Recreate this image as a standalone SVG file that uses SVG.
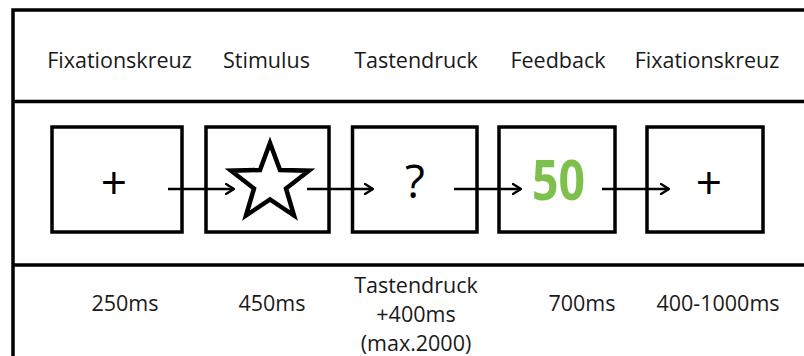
<svg xmlns="http://www.w3.org/2000/svg" width="804" height="356" viewBox="0 0 804 356">
  <style>
    .frame { fill: none; stroke: #000; stroke-width: 3.5; }
    .box { fill: #fff; stroke: #000; stroke-width: 3.5; }
    .lbl { font-family: "Open Sans", "Noto Sans", sans-serif; font-size: 21.5px; fill: #1a1a1a; text-anchor: middle; }
    .sym { font-family: "Open Sans", "Noto Sans", sans-serif; font-size: 46px; fill: #000; text-anchor: middle; }
    .fb { font-family: "Open Sans", "Noto Sans", sans-serif; font-size: 56px; font-weight: bold; fill: #7dc14c; text-anchor: middle; }
    .conn { fill: none; stroke: #000; stroke-width: 2.5; }
  </style>
  <defs>
    <marker id="arrow" viewBox="0 0 10 12" refX="9" refY="6" markerWidth="10" markerHeight="12" markerUnits="userSpaceOnUse" orient="auto">
      <path d="M1,1 L9,6 L1,11" fill="none" stroke="#000" stroke-width="2.3" stroke-linecap="round" stroke-linejoin="round"/>
    </marker>
  </defs>

  <rect width="804" height="356" fill="#fff"/>

  <!-- table frame -->
  <g id="frame" class="frame">
    <path d="M13,356 V10 H804"/>
    <path d="M13,101.5 H804"/>
    <path d="M13,265 H804"/>
  </g>

  <!-- phase names -->
  <g id="headers" class="lbl">
    <text x="119.5" y="68">Fixationskreuz</text>
    <text x="266.5" y="68">Stimulus</text>
    <text x="416" y="68">Tastendruck</text>
    <text x="558" y="68">Feedback</text>
    <text x="707" y="68">Fixationskreuz</text>
  </g>

  <!-- screens -->
  <g id="fixation1">
    <rect class="box" x="52" y="127" width="130" height="105"/>
    <text class="sym" x="114" y="199">+</text>
  </g>
  <g id="stimulus">
    <rect class="box" x="206" y="127" width="123" height="105"/>
    <polygon points="270,143 280,170 309,170.7 286,188.5 294,215.5 270,199.5 246,215.5 254,188.5 231,170.7 260,170" fill="#fff" stroke="#000" stroke-width="4.5" stroke-linejoin="miter"/>
  </g>
  <g id="keypress">
    <rect class="box" x="352.5" y="127" width="124.5" height="105"/>
    <text class="sym" x="415" y="198" font-size="48">?</text>
  </g>
  <g id="feedback">
    <rect class="box" x="499" y="127" width="116" height="105"/>
    <text class="fb" x="558.5" y="200" textLength="53" lengthAdjust="spacingAndGlyphs">50</text>
  </g>
  <g id="fixation2">
    <rect class="box" x="647" y="127" width="116" height="105"/>
    <text class="sym" x="709" y="199">+</text>
  </g>

  <!-- transitions -->
  <g id="connectors" class="conn" marker-end="url(#arrow)">
    <line x1="168" y1="189" x2="234" y2="189"/>
    <line x1="307" y1="189" x2="373" y2="189"/>
    <line x1="454" y1="189" x2="521" y2="189"/>
    <line x1="602" y1="189" x2="669" y2="189"/>
  </g>

  <!-- durations -->
  <g id="durations" class="lbl">
    <text x="125" y="311">250ms</text>
    <text x="272" y="311">450ms</text>
    <text x="416" y="293">Tastendruck</text>
    <text x="416" y="322">+400ms</text>
    <text x="416" y="351">(max.2000)</text>
    <text x="582" y="311">700ms</text>
    <text x="718" y="311">400-1000ms</text>
  </g>
</svg>
